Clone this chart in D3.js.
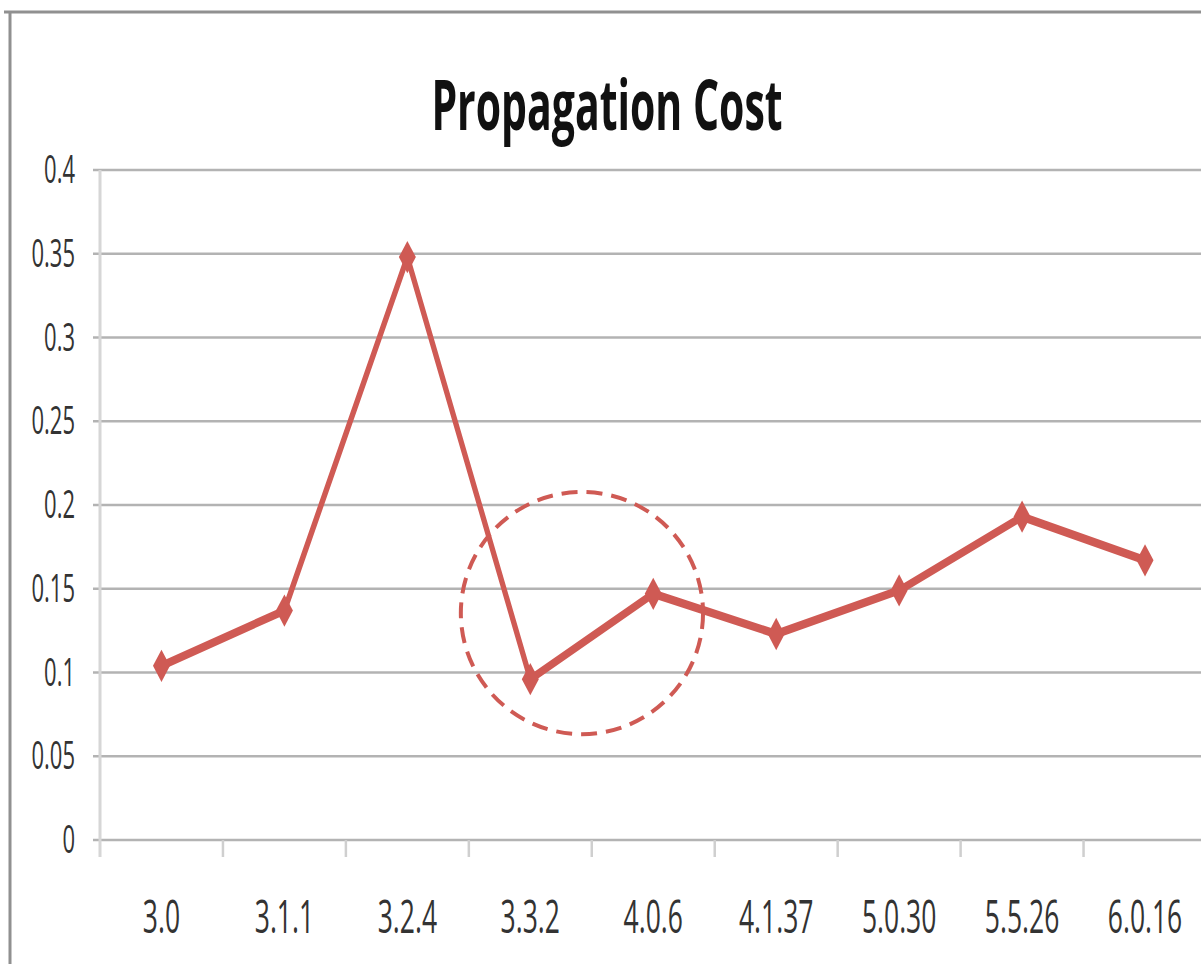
<!DOCTYPE html>
<html><head><meta charset="utf-8">
<script src="https://cdn.jsdelivr.net/npm/d3@7"></script>
<style>html,body{margin:0;padding:0;background:#fff;overflow:hidden}</style>
</head><body>
<svg id="c" width="1201" height="964"></svg>
<script>
const categories = ["3.0","3.1.1","3.2.4","3.3.2","4.0.6","4.1.37","5.0.30","5.5.26","6.0.16"];
const propagationCost = [0.104, 0.137, 0.348, 0.096, 0.147, 0.123, 0.149, 0.193, 0.167];
const yTicks = [0, 0.05, 0.1, 0.15, 0.2, 0.25, 0.3, 0.35, 0.4];
const yTickLabels = ["0","0.05","0.1","0.15","0.2","0.25","0.3","0.35","0.4"];
const titleText = "Propagation Cost";
const highlight = {from: "3.3.2", offset: 0.42, value: 0.1355, radiusBands: 0.985};

const K = 1.7; // vertical stretch of the original picture
const W = 1201, H = 964;
const color = "#cf5a54";
const font = "'Open Sans', 'Liberation Sans', sans-serif";

const svg = d3.select("#c");
// frame
svg.append("line").attr("x1",4).attr("x2",W).attr("y1",12).attr("y2",12).attr("stroke","#909090").attr("stroke-width",3);
svg.append("line").attr("x1",10).attr("x2",10).attr("y1",12).attr("y2",H).attr("stroke","#909090").attr("stroke-width",3);

const g = svg.append("g").attr("transform",`scale(1,${K})`);

const x = d3.scaleBand().domain(categories).range([100, 1206.5]).paddingInner(0).paddingOuter(0);
const y = d3.scaleLinear().domain([0, 0.4]).range([840/K, 170/K]);
const cx = c => x(c) + x.bandwidth()/2;

// gridlines
g.append("g").selectAll("line").data(yTicks).join("line")
  .attr("x1",93).attr("x2",W+10)
  .attr("y1",d=>y(d)).attr("y2",d=>y(d))
  .attr("stroke","#b3b3b3").attr("stroke-width",1.6);

// vertical axis line
g.append("line").attr("x1",100).attr("x2",100).attr("y1",y(0.4)).attr("y2",857/K)
  .attr("stroke","#d6d6d6").attr("stroke-width",3);

// x ticks at band boundaries
const tickPos = categories.map(c => x(c)).slice(1).concat([x.range()[1]]);
g.append("g").selectAll("line").data(tickPos).join("line")
  .attr("x1",d=>d).attr("x2",d=>d).attr("y1",y(0)).attr("y2",857/K)
  .attr("stroke","#cfcfcf").attr("stroke-width",2.5);

// y labels
g.append("g").selectAll("text").data(yTicks).join("text")
  .attr("x",75).attr("y",d=>y(d)).attr("dy","0.35em")
  .attr("text-anchor","end").attr("font-family",font).attr("font-size",22)
  .attr("fill","#333").text((d,i)=>yTickLabels[i]);

// x labels
g.append("g").selectAll("text").data(categories).join("text")
  .attr("x",d=>cx(d)).attr("y",933/K)
  .attr("text-anchor","middle").attr("font-family",font).attr("font-size",26.5)
  .attr("fill","#333").text(d=>d);

// title
g.append("text").attr("x",607).attr("y",130/K).attr("text-anchor","middle")
  .attr("font-family",font).attr("font-weight","bold").attr("font-size",41)
  .attr("fill","#111").text(titleText);

// series line
const line = d3.line().x((d,i)=>cx(categories[i])).y(d=>y(d));
g.append("path").datum(propagationCost).attr("d",line)
  .attr("fill","none").attr("stroke",color).attr("stroke-width",5).attr("stroke-linejoin","round");

// diamond markers
const diamond = "M0,-9.5L8.5,0L0,9.5L-8.5,0Z";
g.append("g").selectAll("path").data(propagationCost).join("path")
  .attr("d",diamond)
  .attr("transform",(d,i)=>`translate(${cx(categories[i])},${y(d)})`)
  .attr("fill",color);

// dashed highlight circle (drawn in unstretched pixel space)
const hx = x(highlight.from) + x.bandwidth()*(0.5+highlight.offset);
const hy = y(highlight.value)*K;
svg.append("circle").attr("cx",hx).attr("cy",hy).attr("r",x.bandwidth()*highlight.radiusBands)
  .attr("fill","none").attr("stroke",color).attr("stroke-width",4).attr("stroke-dasharray","16 9");
</script>
</body></html>
